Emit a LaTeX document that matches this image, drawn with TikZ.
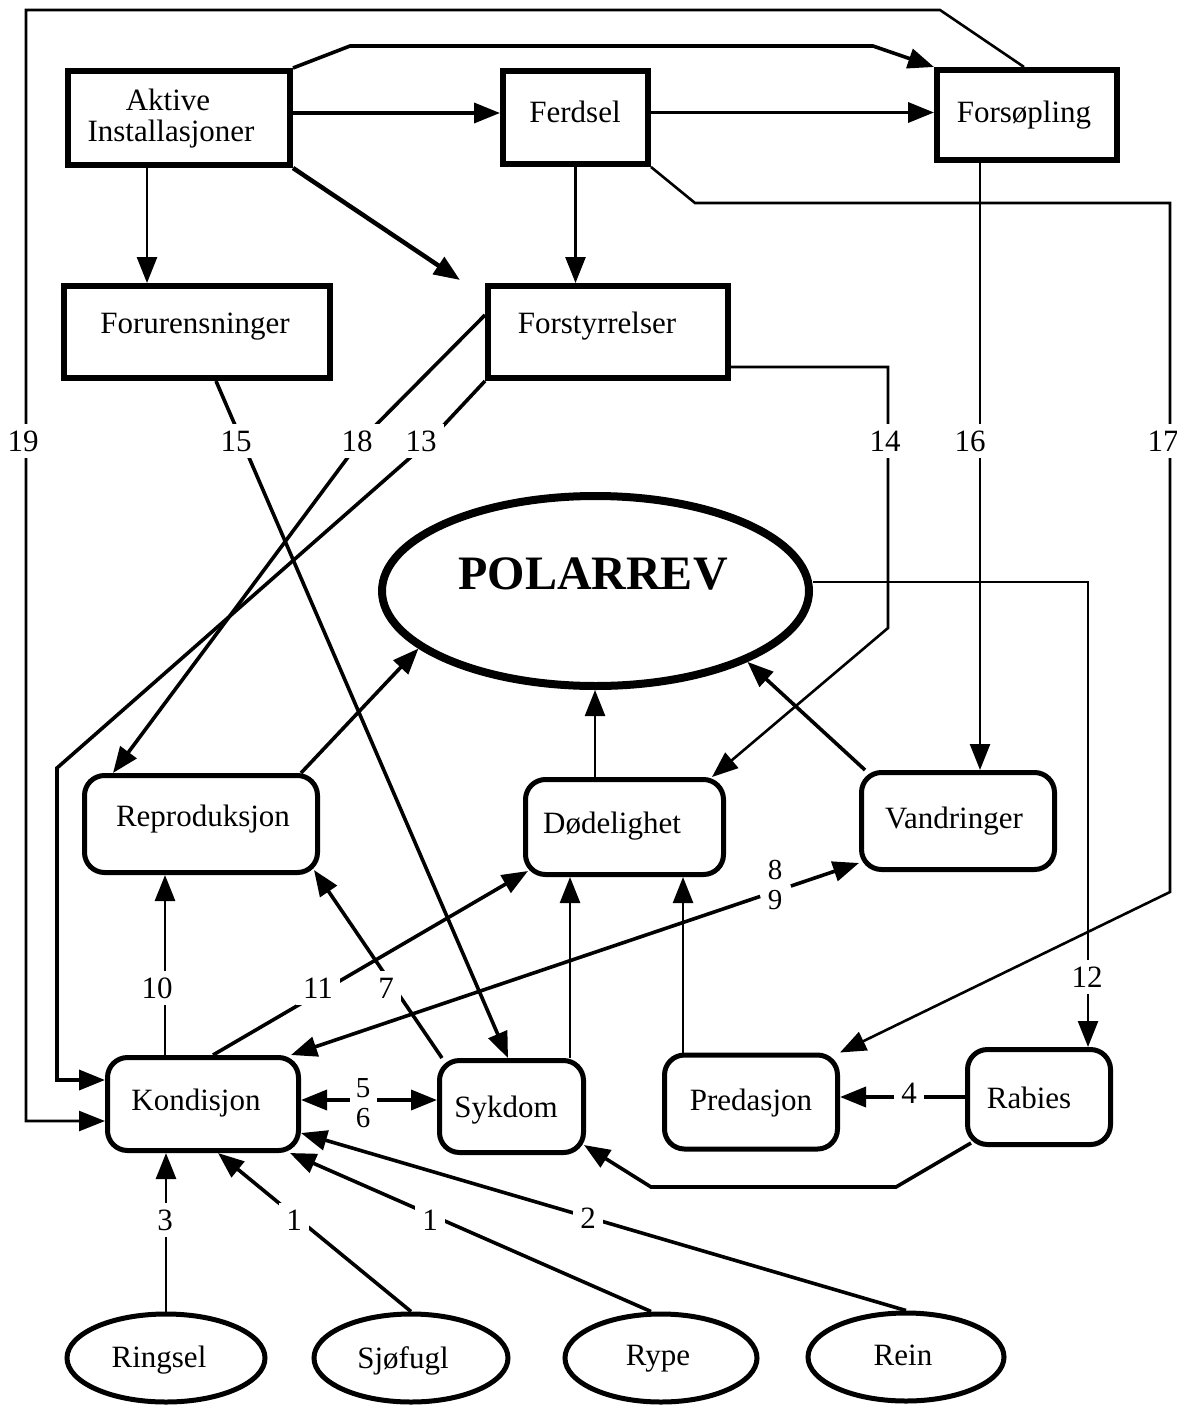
\documentclass[tikz,border=0pt]{standalone}
\usepackage{fontspec}
\setmainfont{Liberation Serif}
\usetikzlibrary{arrows.meta,shapes.geometric,calc}

\begin{document}
\begin{tikzpicture}[x=1pt,y=-1pt,
  sqbox/.style={draw, line width=6pt, inner sep=0pt},
  rbox/.style={draw, line width=5pt, rounded corners=20pt, inner sep=0pt},
  oval/.style={draw, ellipse, line width=5pt, inner sep=0pt},
  txt/.style={font=\fontsize{31}{34}\selectfont, inner sep=0pt, text height=20.5pt, text depth=0pt},
  pair/.style={font=\fontsize{29}{30}\selectfont, inner sep=0pt, text height=19pt, text depth=0pt},
  lab/.style={txt, fill=white, inner sep=7pt},
  tip/.style={-{Triangle[length=26pt,width=20pt]}},
  rtip/.style={{Triangle[length=26pt,width=20pt]}-},
  conn/.style={line width=3.6pt, tip},
  vconn/.style={line width=2.6pt, tip},
]
\useasboundingbox (0,0) rectangle (1176,1410);

% ---- causes (square boxes)
\node[sqbox, minimum width=222pt, minimum height=94pt] (aktive) at (179,118) {};
\node[sqbox, minimum width=145pt, minimum height=93pt] (ferdsel) at (575.5,117.5) {};
\node[sqbox, minimum width=180pt, minimum height=90pt] (forsop) at (1027,115) {};
\node[sqbox, minimum width=266pt, minimum height=92pt] (forur) at (197,332) {};
\node[sqbox, minimum width=240pt, minimum height=92pt] (forst) at (608,332) {};

% ---- central population
\node[draw, ellipse, line width=8pt, minimum width=427pt, minimum height=190pt, inner sep=0pt] (polar) at (595.5,591) {};

% ---- effects (rounded boxes)
\node[rbox, minimum width=233pt, minimum height=97pt] (repro) at (201,824) {};
\node[rbox, minimum width=198pt, minimum height=95pt] (dod) at (624.5,827) {};
\node[rbox, minimum width=193pt, minimum height=97pt] (vandr) at (958,821) {};
\node[rbox, minimum width=191pt, minimum height=93pt] (kond) at (203,1104) {};
\node[rbox, minimum width=144pt, minimum height=92pt] (sykdom) at (511.5,1106.5) {};
\node[rbox, minimum width=173pt, minimum height=94pt] (pred) at (751,1102) {};
\node[rbox, minimum width=143pt, minimum height=95pt] (rabies) at (1039,1097) {};

% ---- prey (ellipses)
\node[oval, minimum width=198pt, minimum height=88pt] (ringsel) at (166,1358) {};
\node[oval, minimum width=194pt, minimum height=88pt] (sjofugl) at (411,1358) {};
\node[oval, minimum width=192pt, minimum height=88pt] (rype) at (661,1358) {};
\node[oval, minimum width=196pt, minimum height=88pt] (rein) at (906,1357) {};

% ---- texts
\node[txt] (aktiveA) at (168,100) {Aktive};
\node[txt] (aktiveB) at (171,131) {Installasjoner};
\node[txt] (ferdselT) at (575,112) {Ferdsel};
\node[txt] (forsopT) at (1024,112) {Forsøpling};
\node[txt] (forurT) at (195,323) {Forurensninger};
\node[txt] (forstT) at (597,323) {Forstyrrelser};
\node[font=\fontsize{48}{52}\selectfont\bfseries, inner sep=0pt, text height=31.8pt, text depth=0pt] (polarT) at (593,574) {POLARREV};
\node[txt] (reproT) at (203,816) {Reproduksjon};
\node[txt] (dodT) at (612,823) {Dødelighet};
\node[txt] (vandrT) at (954,818) {Vandringer};
\node[txt] (kondT) at (196,1100) {Kondisjon};
\node[txt] (sykdomT) at (506,1107) {Sykdom};
\node[txt] (predT) at (751,1100) {Predasjon};
\node[txt] (rabiesT) at (1029,1098) {Rabies};
\node[txt] (ringselT) at (159,1357) {Ringsel};
\node[txt] (sjofuglT) at (403,1358) {Sjøfugl};
\node[txt] (rypeT) at (658,1355) {Rype};
\node[txt] (reinT) at (903,1355) {Rein};

% ---- connectors among the causes
\draw[conn] ([yshift=5pt]aktive.east) -- ([yshift=5pt]aktive.east -| ferdsel.west);
\draw[conn] ([yshift=5pt]ferdsel.east) -- ([yshift=5pt]ferdsel.east -| forsop.west);
\draw[conn] (aktive.north east) -- (350,46) -- (873,46) -- (forsop.north west);
\draw[vconn] ([xshift=-32pt]aktive.south) -- ([xshift=-32pt]aktive.south |- forur.north);
\coordinate (fstIn) at (460,280);
\draw[conn, line width=4.5pt] (aktive.south east) -- (fstIn);
\draw[vconn] (ferdsel.south) -- (ferdsel.south |- forst.north);

% ---- long routes (numbered)
\draw[vconn] ([xshift=-3pt]forsop.north) -- (940,10) -- (26,10) |- ([yshift=-17pt]kond.west);
\draw[vconn] (ferdsel.south east) -- (695,203) -- (1170,203) -- (1170,892) -- (pred.north east);
\draw[vconn] ([xshift=-47pt]forsop.south) -- ([xshift=-47pt]forsop.south |- vandr.north);
\draw[vconn] ([yshift=-35pt]forst.east) -- (888,367) -- (888,628) -- ([xshift=-14pt]dod.north east);
\draw[conn] ([yshift=17pt]forst.west) -- (360,441) -- ([xshift=31pt]repro.north west);
\draw[conn] (forst.south west) -- (428,442) -- (57,768) |- ([yshift=24pt]kond.west);
\draw[conn] ([xshift=19pt]forur.south) -- ([xshift=-3.5pt]sykdom.north);
\draw[vconn] ([yshift=9pt]polar.east) -- (1088,582) -- ([xshift=49pt]rabies.north);

% ---- effects on the population
\draw[conn] ([xshift=-19pt]repro.north east) -- (polar.198);
\draw[vconn] ([xshift=-29.5pt]dod.north) -- ([xshift=-29.5pt]dod.north |- polar.south);
\draw[conn] ([xshift=6pt]vandr.north west) -- (polar.335);

% ---- links among the effects
\draw[vconn] ([xshift=-38pt]kond.north) -- ([xshift=-38pt]kond.north |- repro.south);
\draw[conn] ([xshift=10pt]kond.north) -- ([shift={(5pt,6pt)}]dod.south west);
\draw[conn] ([xshift=5pt]sykdom.north west) -- ([shift={(-6pt,5pt)}]repro.south east);
\draw[vconn] ([xshift=58.5pt]sykdom.north) -- ([xshift=58.5pt]sykdom.north |- dod.south);
\draw[vconn] ([xshift=-68pt]pred.north) -- ([xshift=-68pt]pred.north |- dod.south);
% two-way link 8/9, broken where its numbers stand
\coordinate (kv1) at ([xshift=-10pt]kond.north east);
\coordinate (kv2) at ([yshift=9pt]vandr.south west);
\draw[line width=3.6pt, rtip] (kv1) -- ($(kv1)!0.826!(kv2)$);
\draw[conn] ($(kv1)!0.88!(kv2)$) -- (kv2);
% two-way link 5/6
\coordinate (ks1) at ([yshift=4pt]kond.east);
\coordinate (ks2) at (ks1 -| sykdom.west);
\draw[line width=3.6pt, rtip] (ks1) -- ($(ks1)+(49,0)$);
\draw[conn] ($(ks2)+(-60,0)$) -- (ks2);
\draw[conn] (rabies.west) -- (rabies.west -| pred.east);
\draw[conn] ([shift={(6pt,4pt)}]rabies.south west) -- (896,1187) -- (651,1187) -- ([shift={(-2pt,10pt)}]sykdom.south east);

% ---- prey to condition
\draw[vconn] (ringsel.north) -- (ringsel.north |- kond.south);
\draw[conn] (sjofugl.north) -- ([xshift=15pt]kond.south);
\draw[conn] ([xshift=-10pt]rype.north) -- ([xshift=-11pt]kond.south east);
\draw[conn] (rein.north) -- ([yshift=-29pt]kond.east);

% ---- numbers on the connectors
\node[lab] (n19) at (23,441) {19};
\node[lab] (n15) at (236,441) {15};
\node[lab] (n18) at (357,441) {18};
\node[lab] (n13) at (421,441) {13};
\node[lab] (n14) at (885,441) {14};
\node[lab] (n16) at (970,441) {16};
\node[lab] (n17) at (1163,441) {17};
\node[lab] (n12) at (1087,977) {12};
\node[lab] (n10) at (157,988) {10};
\node[lab] (n11) at (318,988) {11};
\node[lab] (n7) at (386,988) {7};
\node[pair] (n8) at (775,870) {8};
\node[pair] (n9) at (775,900) {9};
\node[pair] (n5) at (363,1088) {5};
\node[pair] (n6) at (363,1118) {6};
\node[lab] (n4) at (909,1093) {4};
\node[lab] (n3) at (165,1220) {3};
\node[lab] (n1a) at (294,1220) {1};
\node[lab] (n1b) at (430,1220) {1};
\node[lab] (n2) at (588,1218) {2};
\end{tikzpicture}
\end{document}
